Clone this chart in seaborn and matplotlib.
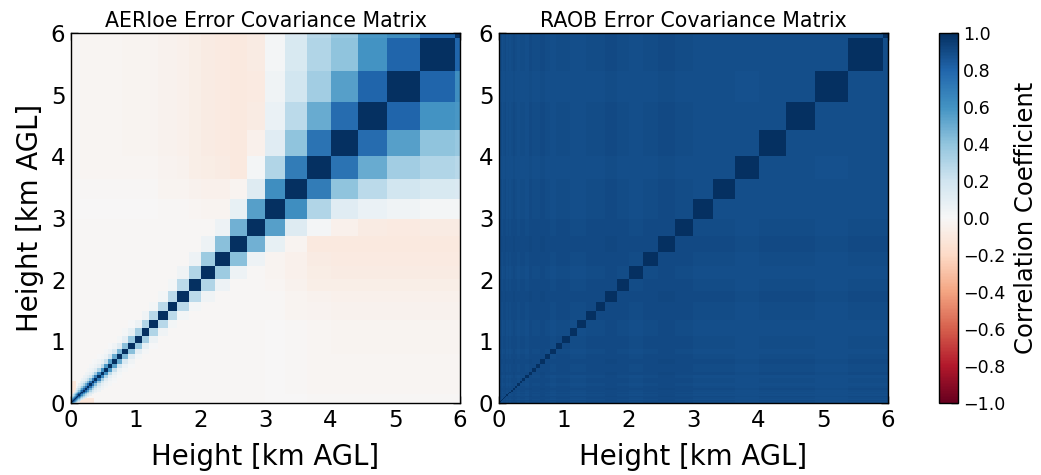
import numpy as np
import pandas as pd
import matplotlib
matplotlib.use("Agg")
import matplotlib.pyplot as plt
from matplotlib.ticker import FuncFormatter
import seaborn as sns

# ---------------- data ----------------
# retrieval level edges [km AGL]
heights_km = [0.000, 0.010, 0.021, 0.033, 0.046, 0.061, 0.077, 0.095, 0.114, 0.136,
              0.159, 0.185, 0.214, 0.245, 0.280, 0.318, 0.360, 0.405, 0.456, 0.512,
              0.573, 0.640, 0.714, 0.795, 0.885, 0.984, 1.092, 1.211, 1.342, 1.486,
              1.645, 1.819, 2.011, 2.223, 2.455, 2.710, 2.991, 3.300, 3.640, 4.015,
              4.426, 4.879, 5.376, 5.924, 6.526]

# AERIoe: correlation of level i (0..33) with level i+k
aeri_lag1 = [0.86, 0.86, 0.86, 0.86, 0.85, 0.85, 0.85, 0.84, 0.84, 0.83,
             0.82, 0.80, 0.78, 0.76, 0.74, 0.72, 0.69, 0.66, 0.62, 0.58,
             0.54, 0.50, 0.46, 0.42, 0.38, 0.34, 0.30, 0.28, 0.27, 0.27,
             0.27, 0.30, 0.36, 0.42]
aeri_lag2 = [0.70, 0.70, 0.70, 0.68, 0.68, 0.66, 0.65, 0.63, 0.62, 0.60,
             0.57, 0.54, 0.50, 0.46, 0.42, 0.38, 0.34, 0.30, 0.26, 0.22,
             0.18, 0.15, 0.12, 0.10, 0.08, 0.06, 0.04, 0.03, 0.03, 0.03,
             0.04, 0.05, 0.05, 0.05]
aeri_lag3 = [0.55, 0.55, 0.54, 0.53, 0.52, 0.50, 0.48, 0.46, 0.43, 0.40,
             0.36, 0.32, 0.28, 0.24, 0.20, 0.16, 0.13, 0.10, 0.08, 0.06,
             0.05, 0.04, 0.03, 0.02, 0.01, 0.00, 0.00, 0.00, 0.00, 0.00,
             0.00, 0.00, 0.00, 0.00]
aeri_lag4 = [0.42, 0.41, 0.40, 0.38, 0.36, 0.34, 0.32, 0.29, 0.26, 0.23,
             0.20, 0.17, 0.14, 0.11, 0.09, 0.07, 0.05, 0.04, 0.03, 0.02,
             0.01, 0.00, 0.00, 0.00, 0.00, 0.00, 0.00, 0.00, 0.00, 0.00,
             0.00, 0.00, 0.00, 0.00]
aeri_lag5 = [0.30, 0.29, 0.28, 0.26, 0.24, 0.22, 0.20, 0.17, 0.15, 0.13,
             0.11, 0.09, 0.07, 0.05, 0.04, 0.03, 0.02, 0.01, 0.00, 0.00,
             0.00, 0.00, 0.00, 0.00, 0.00, 0.00, 0.00, 0.00, 0.00, 0.00,
             0.00, 0.00, 0.00, 0.00]
aeri_lag6 = [0.20, 0.19, 0.18, 0.17, 0.15, 0.14, 0.12, 0.10, 0.09, 0.08,
             0.06, 0.05, 0.04, 0.03, 0.02, 0.01, 0.00, 0.00, 0.00, 0.00,
             0.00, 0.00, 0.00, 0.00, 0.00, 0.00, 0.00, 0.00, 0.00, 0.00,
             0.00, 0.00, 0.00, 0.00]

# levels 34 and 35 against levels 35..43 / 36..43
aeri_row34 = [0.48, 0.08, -0.03, -0.10, -0.10, -0.10, -0.10, -0.10, -0.10]
aeri_row35 = [0.55, 0.13, 0.02, -0.05, -0.08, -0.09, -0.08, -0.08]

# upper block, levels 36..43
aeri_upper = [
    [1.00, 0.62, 0.30, 0.12, 0.07, 0.04, 0.02, 0.02],
    [0.62, 1.00, 0.70, 0.40, 0.27, 0.19, 0.16, 0.15],
    [0.30, 0.70, 1.00, 0.74, 0.50, 0.35, 0.30, 0.28],
    [0.12, 0.40, 0.74, 1.00, 0.77, 0.55, 0.40, 0.38],
    [0.07, 0.27, 0.50, 0.77, 1.00, 0.80, 0.60, 0.58],
    [0.04, 0.19, 0.35, 0.55, 0.80, 1.00, 0.80, 0.62],
    [0.02, 0.16, 0.30, 0.40, 0.60, 0.80, 1.00, 0.80],
    [0.02, 0.15, 0.28, 0.38, 0.58, 0.62, 0.80, 1.00],
]

# weak negative coupling of lower levels (0..35) with the upper levels (36..43)
aeri_cross_low = [0.01] * 9 + [0.02] * 14 + [0.025] * 5 + [0.04, 0.04, 0.05,
                                                          0.07, 0.08, 0.09, 0.10, 0.08]
aeri_cross_up = [0.3, 0.6, 0.9, 1.0, 1.0, 1.0, 1.0, 1.0]
aeri_low_offband = -0.008
# small negative patch near the surface
sfc_rows = [0, 1, 2, 3, 4, 5]
sfc_cols = [9, 10, 11, 12, 13, 14, 15]
sfc_value = -0.12

# RAOB: off-diagonal correlation level per level
raob_r = [0.90, 0.89, 0.90, 0.91, 0.89, 0.90, 0.90, 0.91, 0.89, 0.90,
          0.89, 0.90, 0.91, 0.90, 0.89, 0.90, 0.90, 0.89, 0.91, 0.90,
          0.90, 0.91, 0.90, 0.89, 0.90, 0.90, 0.89, 0.89, 0.90, 0.90,
          0.91, 0.90, 0.89, 0.90, 0.91, 0.90, 0.89, 0.89, 0.88, 0.89,
          0.89, 0.88, 0.89, 0.89]

tick_values = [0, 1, 2, 3, 4, 5, 6]
cbar_ticks = [-1.0, -0.8, -0.6, -0.4, -0.2, 0.0, 0.2, 0.4, 0.6, 0.8, 1.0]

# ---------------- build matrices ----------------
edges = np.array(heights_km)
n = len(edges) - 1

aeri = np.full((n, n), aeri_low_offband)
for i in range(36):
    for jj, cu in enumerate(aeri_cross_up):
        j = 36 + jj
        aeri[i, j] = aeri[j, i] = -aeri_cross_low[i] * cu
for i in sfc_rows:
    for j in sfc_cols:
        aeri[i, j] = aeri[j, i] = sfc_value
for k, lag in enumerate([aeri_lag1, aeri_lag2, aeri_lag3, aeri_lag4, aeri_lag5, aeri_lag6], 1):
    for i, v in enumerate(lag):
        j = i + k
        if v > 0 and j < n:
            aeri[i, j] = aeri[j, i] = v
for jj, v in enumerate(aeri_row34):
    j = 35 + jj
    aeri[34, j] = aeri[j, 34] = v
for jj, v in enumerate(aeri_row35):
    j = 36 + jj
    aeri[35, j] = aeri[j, 35] = v
aeri[36:, 36:] = np.array(aeri_upper)
np.fill_diagonal(aeri, 1.0)

rr = np.array(raob_r)
raob = (rr[:, None] + rr[None, :]) / 2.0
np.fill_diagonal(raob, 1.0)

# expand the level matrix onto a regular 10 m grid so seaborn's heatmap can draw it
RES = 0.01
NF = 600
centers = (np.arange(NF) + 0.5) * RES
idx = np.searchsorted(edges, centers, side="right") - 1


def expand(mat):
    return pd.DataFrame(mat[np.ix_(idx, idx)])


# ---------------- plot ----------------
sns.set_style("white")
plt.rcParams["font.family"] = ["DejaVu Sans"]
plt.rcParams["axes.unicode_minus"] = True
plt.rcParams["text.color"] = "black"
plt.rcParams["axes.labelcolor"] = "black"
plt.rcParams["xtick.color"] = "black"
plt.rcParams["ytick.color"] = "black"

fig = plt.figure(figsize=(10.41, 4.75), dpi=100)
ax1 = fig.add_axes([0.0682, 0.1516, 0.3737, 0.779])
ax2 = fig.add_axes([0.4793, 0.1516, 0.3737, 0.779])
cax = fig.add_axes([0.902, 0.1516, 0.0183, 0.779])

panels = [(ax1, aeri, "AERIoe Error Covariance Matrix"),
          (ax2, raob, "RAOB Error Covariance Matrix")]
for ax, mat, title in panels:
    sns.heatmap(expand(mat), cmap="RdBu", vmin=-1, vmax=1, cbar=False, ax=ax,
                xticklabels=False, yticklabels=False)
    ax.set_xlim(0, NF)
    ax.set_ylim(0, NF)
    pos = [v / RES for v in tick_values]
    ax.set_xticks(pos)
    ax.set_yticks(pos)
    ax.set_xticklabels([str(v) for v in tick_values], rotation=0)
    ax.set_yticklabels([str(v) for v in tick_values], rotation=0)
    for s in ax.spines.values():
        s.set_visible(True)
        s.set_color("black")
        s.set_linewidth(1.0)
    ax.tick_params(direction="in", length=5, width=1, colors="black",
                   top=True, right=True, bottom=True, left=True,
                   labelsize=16.5, pad=4)
    ax.set_title(title, fontsize=14.8, pad=4, color="black")
    ax.set_xlabel("Height [km AGL]", fontsize=19.8, labelpad=8, color="black")
    ax.set_ylabel("")

ax1.set_ylabel("Height [km AGL]", fontsize=19.8, labelpad=5, color="black")

cb = fig.colorbar(ax1.collections[0], cax=cax, ticks=cbar_ticks)
cb.ax.yaxis.set_major_formatter(FuncFormatter(lambda x, p: f"{x:.1f}".replace("-", "\u2212")))
cb.ax.tick_params(direction="in", length=5, width=1, labelsize=12.6, colors="black")
cb.outline.set_linewidth(1.0)
cb.outline.set_edgecolor("black")
cb.set_label("Correlation Coefficient", fontsize=17.5, labelpad=6, color="black")

fig.savefig("out.png", dpi=100)
